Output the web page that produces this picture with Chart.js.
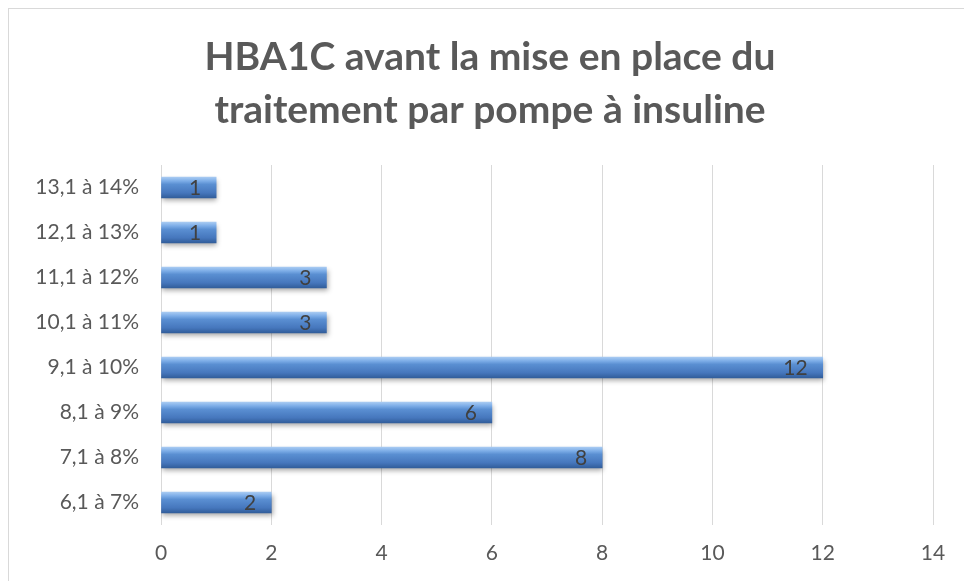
<!DOCTYPE html>
<html>
<head>
<meta charset="utf-8">
<script src="https://cdn.jsdelivr.net/npm/chart.js@4.4.1/dist/chart.umd.min.js"></script>
<style>
  html, body { margin: 0; padding: 0; background: #ffffff; }
  #wrap { position: relative; width: 964px; height: 581px; overflow: hidden; }
  #frame { position: absolute; left: 8px; top: 8px; width: 960px; height: 590px; border: 1px solid #d9d9d9; box-sizing: border-box; }
  canvas { position: absolute; left: 0; top: 0; }
</style>
</head>
<body>
<div id="wrap">
  <div id="frame"></div>
  <canvas id="c" width="964" height="581"></canvas>
</div>
<script>
// HbA1c ranges (top to bottom) and patient counts
const categories = ['13,1 à 14%', '12,1 à 13%', '11,1 à 12%', '10,1 à 11%', '9,1 à 10%', '8,1 à 9%', '7,1 à 8%', '6,1 à 7%'];
const counts = [1, 1, 3, 3, 12, 6, 8, 2];
const xTicks = [0, 2, 4, 6, 8, 10, 12, 14];
const titleLines = ['HBA1C avant la mise en place du', 'traitement par pompe à insuline'];

const FONT = 'Lato, "Open Sans", sans-serif';
const BAR_H = 21;

// vertical bevel gradient for each bar, positioned from the category scale
function barFill(ctx) {
  const chart = ctx.chart;
  const y = chart.scales && chart.scales.y;
  if (!chart.chartArea || !y || ctx.dataIndex === undefined) return '#4f81bd';
  const cy = y.getPixelForValue(ctx.dataIndex);
  if (!isFinite(cy)) return '#4f81bd';
  const top = cy - BAR_H / 2;
  const g = chart.ctx.createLinearGradient(0, top, 0, top + BAR_H);
  g.addColorStop(0, '#a9cbf2');
  g.addColorStop(0.18, '#7eaee8');
  g.addColorStop(0.35, '#5a8fd2');
  g.addColorStop(0.75, '#4677bd');
  g.addColorStop(1, '#315d9a');
  return g;
}

// two-line chart title, centred over the frame
const titlePlugin = {
  id: 'frameTitle',
  afterDraw(chart) {
    const c = chart.ctx;
    c.save();
    c.font = 'bold 39px ' + FONT;
    c.fillStyle = '#595959';
    c.textAlign = 'center';
    c.textBaseline = 'middle';
    titleLines.forEach((line, i) => c.fillText(line, 490, 57 + i * 53));
    c.restore();
  }
};

// soft drop shadow under the bars
const shadowPlugin = {
  id: 'barShadow',
  beforeDatasetDraw(chart) {
    const c = chart.ctx;
    c.save();
    c.shadowColor = 'rgba(0,0,0,0.35)';
    c.shadowBlur = 5;
    c.shadowOffsetX = 1;
    c.shadowOffsetY = 3;
  },
  afterDatasetDraw(chart) {
    chart.ctx.restore();
  }
};

// value labels inside the end of each bar
const valueLabels = {
  id: 'valueLabels',
  afterDatasetsDraw(chart) {
    const c = chart.ctx;
    const meta = chart.getDatasetMeta(0);
    c.save();
    c.font = '21px ' + FONT;
    c.fillStyle = '#404040';
    c.textAlign = 'right';
    c.textBaseline = 'middle';
    meta.data.forEach((bar, i) => {
      c.fillText(String(chart.data.datasets[0].data[i]), bar.x - 15, bar.y + 1);
    });
    c.restore();
  }
};

new Chart(document.getElementById('c'), {
  type: 'bar',
  data: {
    labels: categories,
    datasets: [{
      data: counts,
      backgroundColor: barFill,
      borderWidth: 0,
      barThickness: BAR_H
    }]
  },
  options: {
    indexAxis: 'y',
    responsive: false,
    animation: false,
    layout: { padding: { top: 165, right: 31, bottom: 0, left: 0 } },
    plugins: {
      legend: { display: false },
      tooltip: { enabled: false },
      title: { display: false }
    },
    scales: {
      x: {
        min: 0,
        max: 14,
        afterBuildTicks(axis) { axis.ticks = xTicks.map(v => ({ value: v })); },
        grid: { color: '#d9d9d9', lineWidth: 1, drawTicks: false },
        border: { display: false },
        ticks: { color: '#595959', font: { family: FONT, size: 21 }, padding: 16 },
        afterFit(axis) { axis.height = 56; }
      },
      y: {
        grid: { display: false, drawTicks: false },
        border: { display: false },
        ticks: { color: '#595959', font: { family: FONT, size: 21 }, padding: 22 },
        afterFit(axis) { axis.width = 161; }
      }
    }
  },
  plugins: [titlePlugin, shadowPlugin, valueLabels]
});
</script>
</body>
</html>
